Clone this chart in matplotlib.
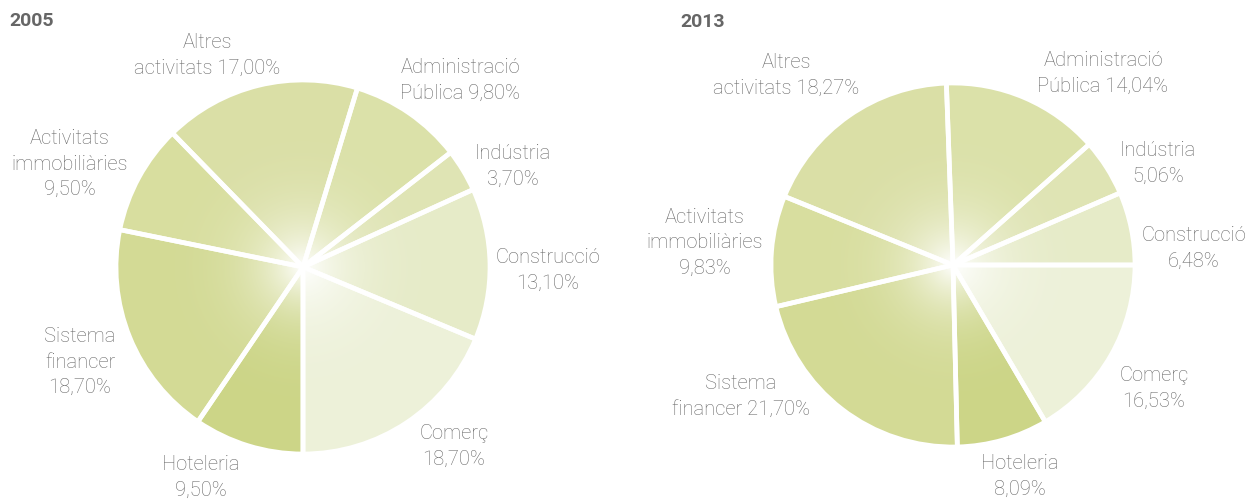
import numpy as np
import matplotlib
matplotlib.use("Agg")
import matplotlib.pyplot as plt
from matplotlib.colors import to_rgb

plt.rcParams["font.family"] = ["Roboto", "DejaVu Sans"]

# shares by sector (%), listed clockwise
SECTORS = ["Hoteleria", "Sistema financer", "Activitats immobiliàries",
           "Altres activitats", "Administració Pública", "Indústria",
           "Construcció", "Comerç"]
SHARE_2005 = [9.50, 18.70, 9.50, 17.00, 9.80, 3.70, 13.10, 18.70]
SHARE_2013 = [8.09, 21.70, 9.83, 18.27, 14.04, 5.06, 6.48, 16.53]

SECTOR_COLORS = ["#ccd587", "#d3da95", "#d8de9f", "#dadfa6", "#dbe1a9",
                 "#dfe4b4", "#e6ebc8", "#edf1d9"]

# label text per pie (line breaks as in the original)
LABELS_2005 = ["Hoteleria\n9,50%", "Sistema\nfinancer\n18,70%",
               "Activitats\nimmobiliàries\n9,50%", "Altres\nactivitats 17,00%",
               "Administració\nPública 9,80%", "Indústria\n3,70%",
               "Construcció\n13,10%", "Comerç\n18,70%"]
LABELS_2013 = ["Hoteleria\n8,09%", "Sistema\nfinancer 21,70%",
               "Activitats\nimmobiliàries\n9,83%", "Altres\nactivitats 18,27%",
               "Administració\nPública 14,04%", "Indústria\n5,06%",
               "Construcció\n6,48%", "Comerç\n16,53%"]

W, H = 1250, 500
TEXT_C = "#686868"

# pixel layout (y measured from top)
PIES = [
    dict(title="2005", tx=9, ty=21, cx=303, cy=267, r=187, start=-90,
         shares=SHARE_2005, labels=LABELS_2005,
         pos=[(201, 477), (80, 362), (70, 164), (207, 55),
              (460, 80), (513, 166), (548, 270), (454, 446)]),
    dict(title="2013", tx=680, ty=22, cx=953, cy=265, r=182, start=0,
         shares=SHARE_2013, labels=LABELS_2013,
         pos=[(1020, 476), (741, 396), (705, 243), (786, 75),
              (1103, 73), (1158, 163), (1194, 248), (1154, 388)]),
]
# Comerç is the first slice clockwise from the start angle in 2013
ORDER_2013_START = 7


def gradient_image(color, n=300):
    c = np.array(to_rgb(color))
    yy, xx = np.mgrid[-1:1:n * 1j, -1:1:n * 1j]
    d = np.clip(np.hypot(xx, yy), 0, 1)
    w = (1 - d) ** 4.0
    img = c[None, None, :] * (1 - w[..., None]) + w[..., None]
    return img


fig = plt.figure(figsize=(12.5, 5), dpi=100)
ax = fig.add_axes([0, 0, 1, 1])

for p in PIES:
    shares = list(p["shares"])
    colors = list(SECTOR_COLORS)
    labels = list(p["labels"])
    pos = list(p["pos"])
    if p["title"] == "2013":
        k = ORDER_2013_START
        shares = shares[k:] + shares[:k]
        colors = colors[k:] + colors[:k]
    cx, cy, r = p["cx"], H - p["cy"], p["r"]
    wedges, _ = ax.pie(shares, colors=colors, startangle=p["start"],
                       counterclock=False, center=(cx, cy), radius=r,
                       wedgeprops=dict(edgecolor="white", linewidth=3.4))
    for wdg, col in zip(wedges, colors):
        wdg.set_facecolor("none")
        wdg.set_zorder(3)
        im = ax.imshow(gradient_image(col), extent=[cx - r, cx + r, cy - r, cy + r],
                       origin="lower", zorder=2, interpolation="bilinear")
        im.set_clip_path(wdg)
    for lab, (x, y) in zip(labels, pos):
        ax.text(x, H - y, lab, ha="center", va="center", fontsize=14.5,
                fontweight="light", color=TEXT_C, linespacing=1.45, zorder=4)
    ax.text(p["tx"], H - p["ty"], p["title"], ha="left", va="center",
            fontsize=14, fontweight="bold", color="#666666", zorder=4)

ax.set_xlim(0, W)
ax.set_ylim(0, H)
ax.set_aspect("equal")
ax.axis("off")

fig.savefig("out.png", dpi=100)
